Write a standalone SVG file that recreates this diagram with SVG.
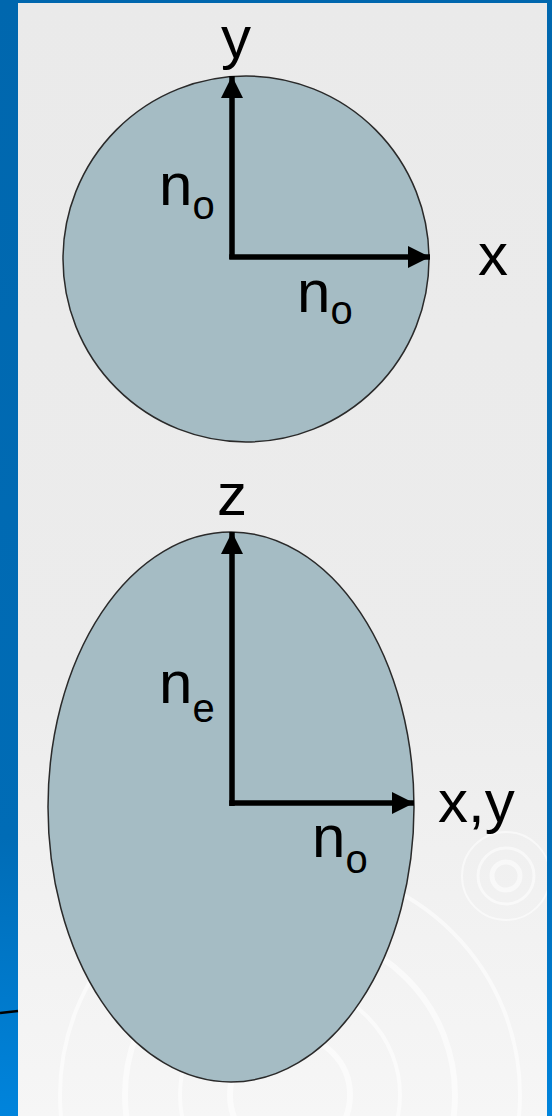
<svg xmlns="http://www.w3.org/2000/svg" width="552" height="1116" viewBox="0 0 552 1116">
  <defs>
    <linearGradient id="blueGrad" x1="0" y1="0" x2="0" y2="1">
      <stop offset="0" stop-color="#0067ae"/>
      <stop offset="0.75" stop-color="#006cb6"/>
      <stop offset="1" stop-color="#0084dc"/>
    </linearGradient>
    <linearGradient id="grayGrad" x1="0" y1="0" x2="0" y2="1">
      <stop offset="0" stop-color="#eaeaea"/>
      <stop offset="0.6" stop-color="#ececec"/>
      <stop offset="1" stop-color="#f6f6f6"/>
    </linearGradient>
    <clipPath id="grayClip">
      <rect x="18" y="3" width="529" height="1113"/>
    </clipPath>
    <marker id="arrow" viewBox="0 0 22 22" refX="22" refY="11" markerWidth="22" markerHeight="22" markerUnits="userSpaceOnUse" orient="auto">
      <path d="M0,0 L22,11 L0,22 Z" fill="#000"/>
    </marker>
    <style>
      .shape { fill: #a5bcc4; stroke: #2a2a2a; stroke-width: 1.5; }
      .axis { stroke: #000; stroke-width: 5.5; fill: none; marker-end: url(#arrow); }
      .lbl { font-family: "Liberation Sans", Arial, sans-serif; font-size: 60px; fill: #000; }
      .sub { font-size: 40px; }
      .ripple { fill: none; stroke: #ffffff; stroke-opacity: 0.55; }
    </style>
  </defs>

  <g id="background">
    <rect x="0" y="0" width="552" height="1116" fill="url(#blueGrad)"/>
    <rect x="18" y="3" width="529" height="1113" fill="url(#grayGrad)"/>
    <g class="ripple" clip-path="url(#grayClip)">
      <circle cx="506" cy="876" r="14" stroke-width="5"/>
      <circle cx="506" cy="876" r="28" stroke-width="3"/>
      <circle cx="506" cy="876" r="44" stroke-width="2"/>
      <circle cx="290" cy="1095" r="60" stroke-width="6"/>
      <circle cx="290" cy="1095" r="110" stroke-width="4"/>
      <circle cx="290" cy="1095" r="165" stroke-width="6"/>
      <circle cx="290" cy="1095" r="230" stroke-width="4"/>
    </g>
    <path d="M0,1013 L18,1011" stroke="#000" stroke-width="2.5" fill="none"/>
  </g>

  <g id="circle-node">
    <circle class="shape" cx="246" cy="259" r="183"/>
  </g>

  <g id="ellipse-node">
    <ellipse class="shape" cx="231" cy="807" rx="183" ry="275"/>
  </g>

  <g id="connectors">
    <line class="axis" x1="232" y1="259" x2="232" y2="76"/>
    <line class="axis" x1="229.25" y1="257" x2="430" y2="257"/>
    <line class="axis" x1="232" y1="806" x2="232" y2="532"/>
    <line class="axis" x1="229.25" y1="803" x2="414" y2="803"/>
  </g>

  <g id="label-y"><text class="lbl" x="236" y="58" text-anchor="middle">y</text></g>
  <g id="label-x"><text class="lbl" x="478" y="275">x</text></g>
  <g id="label-no-1"><text class="lbl" x="159" y="205">n<tspan class="sub" dy="14">o</tspan></text></g>
  <g id="label-no-2"><text class="lbl" x="297" y="312">n<tspan class="sub" dy="12">o</tspan></text></g>
  <g id="label-z"><text class="lbl" x="232" y="515" text-anchor="middle">z</text></g>
  <g id="label-ne"><text class="lbl" x="159" y="703">n<tspan class="sub" dy="19">e</tspan></text></g>
  <g id="label-xy"><text class="lbl" x="438" y="822">x,y</text></g>
  <g id="label-no-3"><text class="lbl" x="312" y="857">n<tspan class="sub" dy="16">o</tspan></text></g>
</svg>
